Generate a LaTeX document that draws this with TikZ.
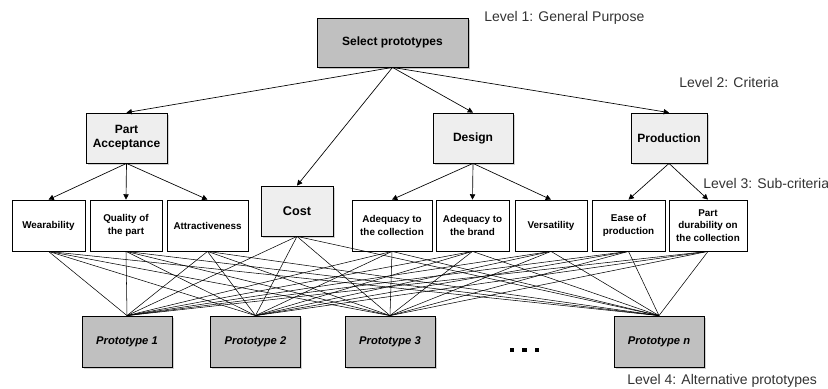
\documentclass[tikz,border=0pt]{standalone}
\usepackage{fontspec}
\setmainfont{Liberation Sans}
\usetikzlibrary{arrows.meta,shadows}
\definecolor{boxgray}{RGB}{192,192,192}
\definecolor{boxlight}{RGB}{238,238,238}
\begin{document}
\begin{tikzpicture}[x=0.75pt,y=0.75pt,yscale=-1,xscale=1,
  box/.style={draw,line width=0.6pt,inner sep=0pt,align=center,font=\fontsize{9}{10.5}\selectfont\bfseries},
  goalbox/.style={box,fill=boxgray,drop shadow={shadow xshift=1.2pt,shadow yshift=-1.2pt,fill=black!45}},
  critbox/.style={box,fill=boxlight,minimum height=37.5pt,drop shadow={shadow xshift=1.2pt,shadow yshift=-1.2pt,fill=black!35}},
  subbox/.style={box,fill=white,minimum height=38.25pt,font=\fontsize{7.4}{9.6}\selectfont\bfseries},
  protobox/.style={box,fill=boxgray,minimum width=67.5pt,minimum height=38.25pt,font=\fontsize{8.4}{10}\selectfont\bfseries\itshape,drop shadow={shadow xshift=1.2pt,shadow yshift=-1.2pt,fill=black!35}},
  levellabel/.style={anchor=west,inner sep=0pt,font=\fontsize{10.5}{12}\selectfont,text=black!80},
  arr/.style={-{Triangle[width=4pt,length=4pt]},line width=0.5pt},
  link/.style={line width=0.4pt}]
\useasboundingbox (0,0) rectangle (828,389);

% level 1
\node[goalbox,minimum width=113.25pt,minimum height=36.75pt] (sel) at (392.5,42.5) {Select prototypes};
\node[levellabel] (lv1) at (484,18) {Level 1: General Purpose};

% level 2
\node[critbox,minimum width=60.75pt] (acc) at (126.5,138) {Part\\Acceptance};
\node[critbox,minimum width=60pt] (des) at (473,138) {Design};
\node[critbox,minimum width=57pt] (prod) at (669,138) {Production};
\node[critbox,minimum width=54pt,font=\fontsize{9.5}{11}\selectfont\bfseries] (cost) at (297,211) {Cost};
\node[levellabel] (lv2) at (679,82) {Level 2: Criteria};

% level 3
\node[subbox,minimum width=54.75pt] (wear) at (48.5,225.5) {Wearability};
\node[subbox,minimum width=54pt] (qual) at (126,225.5) {Quality of\\the part};
\node[subbox,minimum width=60.75pt] (attr) at (207.5,225.5) {Attractiveness};
\node[subbox,minimum width=60pt] (adcol) at (392,225.5) {Adequacy to\\the collection};
\node[subbox,minimum width=54.75pt] (adbr) at (472.5,225.5) {Adequacy to\\the brand};
\node[subbox,minimum width=54pt] (vers) at (551,225.5) {Versatility};
\node[subbox,minimum width=54.75pt] (ease) at (628.5,225.5) {Ease of\\production};
\node[subbox,minimum width=58.5pt] (dur) at (708,225.5) {Part\\durability on\\the collection};
\node[levellabel] (lv3) at (703,183) {Level 3: Sub-criteria};

% level 4
\node[protobox] (p1) at (127,341.5) {Prototype 1};
\node[protobox] (p2) at (255.5,341.5) {Prototype 2};
\node[protobox] (p3) at (390,341.5) {Prototype 3};
\node[protobox] (pn) at (659,341.5) {Prototype n};
\node[levellabel] (lv4) at (627,381) {Level 4: Alternative prototypes};
\foreach \x in {512,524.5,537}
  \fill (\x-2.2,347.8) rectangle (\x+2.2,352.2);

% arrows
\foreach \c in {acc,cost,des,prod}
  \draw[arr] (sel.south) -- (\c.north);
\foreach \s in {wear,qual,attr}
  \draw[arr] (acc.south) -- (\s.north);
\foreach \s in {adcol,adbr,vers}
  \draw[arr] (des.south) -- (\s.north);
\foreach \s in {ease,dur}
  \draw[arr] (prod.south) -- (\s.north);

% links to the alternatives
\foreach \s in {wear,qual,attr,cost,adcol,adbr,vers,ease,dur}
  \foreach \p in {p1,p2,p3,pn}
    \draw[link] (\s.south) -- (\p.north);
\end{tikzpicture}
\end{document}
